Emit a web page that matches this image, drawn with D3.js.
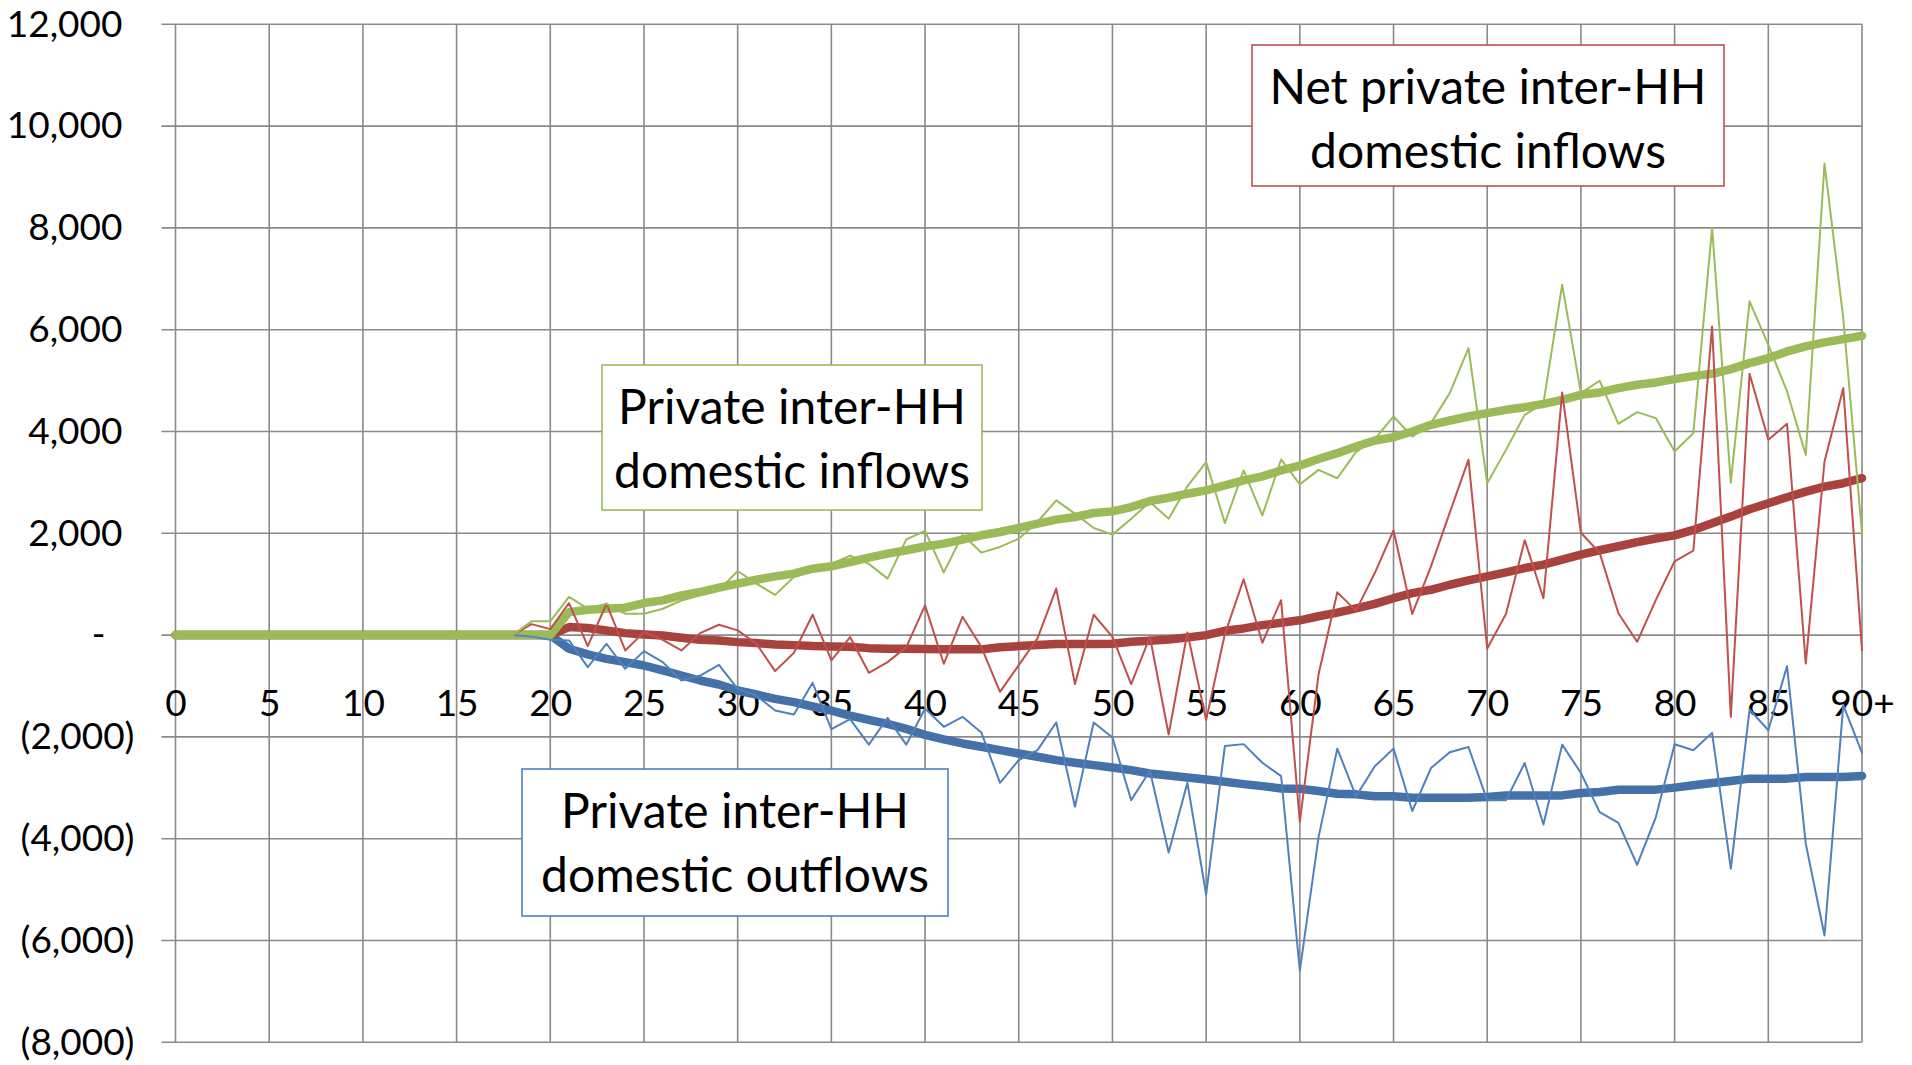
<!DOCTYPE html>
<html>
<head>
<meta charset="utf-8">
<script src="https://cdn.jsdelivr.net/npm/d3@7"></script>
<style>
  html, body { margin: 0; padding: 0; background: #fff; }
  svg { display: block; }
  text { font-family: Lato, "Open Sans", sans-serif; fill: #000; }
</style>
</head>
<body>
<svg id="chart" width="1912" height="1065"></svg>
<script>
// ---------------- DATA ----------------
const ages = d3.range(0, 91);
const xTickValues = d3.range(0, 91, 5);
const xTickLabels = ["0","5","10","15","20","25","30","35","40","45","50","55","60","65","70","75","80","85","90+"];
const yTickValues = [12000, 10000, 8000, 6000, 4000, 2000, 0, -2000, -4000, -6000, -8000];
const yTickLabels = ["12,000","10,000","8,000","6,000","4,000","2,000","-","(2,000)","(4,000)","(6,000)","(8,000)"];

const zeros18 = [0,0,0,0,0,0,0,0,0,0,0,0,0,0,0,0,0,0,0]; // ages 0-18

// Thin lines: raw values by age
const inflowsRaw = zeros18.concat([
  270, 270, 750, 520, 616, 420, 420, 518, 680, 780, 880,      // 19-29
  1260, 1010, 790, 1140, 1300, 1400, 1560, 1400, 1110, 1880,  // 30-39
  2046, 1230, 1974, 1621, 1732, 1895, 2222, 2647, 2386, 2105, // 40-49
  1974, 2288, 2614, 2288, 2922, 3399, 2203, 3235, 2353, 3451, // 50-59
  2961, 3246, 3082, 3600, 3849, 4295, 3900, 4164, 4754, 5639, // 60-69
  2983, 3639, 4328, 4557, 6885, 4754, 4997, 4151, 4380, 4262, // 70-79
  3606, 3967, 8000, 2997, 6557, 5700, 4787, 3541, 9265, 6230, // 80-89
  2000                                                        // 90+
]);
const netRaw = zeros18.concat([
  216, 118, 630, -216, 616, -302, 59, -92, -302, 39, 203,     // 19-29
  92, -170, -708, -348, 400, -498, -39, -741, -531, -236,     // 30-39
  584, -564, 359, -230, -1114, -590, -65, 915, -963, 400,     // 40-49
  -33, -963, -33, -1952, 50, -1670, 20, 1098, -150, 686,      // 50-59
  -3668, -770, 840, 481, 1219, 2056, 415, 1351, 2405, 3447,   // 60-69
  -264, 415, 1865, 725, 4767, 2010, 1615, 428, -132, 692,     // 70-79
  1450, 1661, 6065, -1606, 5134, 3836, 4151, -557, 3410, 4852,// 80-89
  -295                                                        // 90+
]);
const outflowsRaw = zeros18.concat([
  -30, -92, -105, -630, -170, -662, -315, -531, -892, -794, -584,        // 19-29
  -1056, -1187, -1482, -1561, -938, -1849, -1652, -2151, -1626, -2151,   // 30-39
  -1441, -1801, -1605, -1913, -2902, -2456, -2260, -1716, -3373, -1716,  // 40-49
  -2011, -3242, -2666, -4271, -2902, -5096, -2181, -2142, -2509, -2771,  // 50-59
  -6593, -3969, -2230, -3168, -2578, -2230, -3457, -2611, -2303, -2198,  // 60-69
  -3247, -3247, -2512, -3720, -2152, -2709, -3477, -3687, -4513, -3575,  // 70-79
  -2145, -2263, -1921, -4590, -1462, -1869, -610, -4098, -5901, -1377,   // 80-89
  -2315                                                                  // 90+
]);

// Thick lines: smoothed profiles by age
const zeros21 = [0,0,0,0,0,0,0,0,0,0,0,0,0,0,0,0,0,0,0,0,0]; // ages 0-20
const inflowsSmooth = zeros21.concat([
  452, 498, 518, 538, 630, 682, 780, 846, 931,                  // 21-29
  1010, 1088, 1154, 1207, 1305, 1351, 1436, 1521, 1600, 1666,   // 30-39
  1740, 1797, 1876, 1961, 2026, 2105, 2190, 2268, 2320, 2399,   // 40-49
  2431, 2516, 2634, 2699, 2778, 2843, 2941, 3039, 3118, 3235,   // 50-59
  3330, 3460, 3574, 3705, 3823, 3888, 4000, 4131, 4216, 4295,   // 60-69
  4360, 4426, 4478, 4544, 4623, 4721, 4767, 4852, 4918, 4964,   // 70-79
  5029, 5088, 5134, 5226, 5344, 5442, 5573, 5672, 5750, 5816,   // 80-89
  5882
]);
const netSmooth = zeros21.concat([
  157, 138, 92, 39, 13, -7, -52, -92, -105,                     // 21-29
  -138, -157, -184, -197, -216, -223, -230, -256, -269, -270,   // 30-39
  -275, -278, -280, -280, -240, -216, -196, -176, -176, -176,   // 40-49
  -170, -131, -111, -85, -46, 0, 85, 131, 196, 242,             // 50-59
  290, 370, 442, 527, 613, 725, 824, 890, 989, 1074,            // 60-69
  1153, 1232, 1318, 1384, 1483, 1582, 1667, 1746, 1825, 1898,   // 70-79
  1960, 2066, 2197, 2328, 2472, 2590, 2708, 2820, 2918, 2984,   // 80-89
  3082
]);
const outflowsSmooth = zeros21.concat([
  -269, -380, -466, -531, -597, -695, -794, -892, -970,                 // 21-29
  -1088, -1167, -1252, -1318, -1403, -1482, -1580, -1666, -1744, -1843, // 30-39
  -1960, -2050, -2129, -2194, -2260, -2325, -2391, -2456, -2509, -2554, // 40-49
  -2600, -2653, -2718, -2757, -2797, -2836, -2882, -2928, -2967, -3013, // 50-59
  -3018, -3063, -3116, -3129, -3168, -3168, -3195, -3195, -3195, -3195, // 60-69
  -3182, -3149, -3149, -3149, -3149, -3103, -3083, -3037, -3037, -3036, // 70-79
  -2997, -2951, -2905, -2865, -2820, -2820, -2820, -2787, -2787, -2787, // 80-89
  -2767
]);

const labelTexts = [
  ["Net private inter-HH", "domestic inflows"],
  ["Private inter-HH", "domestic inflows"],
  ["Private inter-HH", "domestic outflows"]
];
const labelColors = ["#C0504D", "#9BBB59", "#4F81BD"];

// ---------------- CHART ----------------
(function () {
  const svg = d3.select("#chart");
  const W = 1912, H = 1065;
  svg.append("rect").attr("width", W).attr("height", H).attr("fill", "#fff");

  const pLeft = 175.5, pRight = 1862, pTop = 24.3, pBottom = 1042.3;
  const x = d3.scaleLinear().domain([0, 90]).range([pLeft, pRight]);
  const y = d3.scaleLinear().domain([-8000, 12000]).range([pBottom, pTop]);

  const gridColor = "#8a8a8a";
  svg.append("g").selectAll("line").data(yTickValues).join("line")
    .attr("x1", pLeft - 14).attr("x2", pRight)
    .attr("y1", d => y(d)).attr("y2", d => y(d))
    .attr("stroke", gridColor).attr("stroke-width", 1.6);
  svg.append("g").selectAll("line").data(xTickValues).join("line")
    .attr("x1", d => x(d)).attr("x2", d => x(d))
    .attr("y1", pTop).attr("y2", pBottom)
    .attr("stroke", gridColor).attr("stroke-width", 1.6);

  const yAxis = d3.axisLeft(y).tickValues(yTickValues)
    .tickFormat((d, i) => yTickLabels[i]).tickSize(0).tickPadding(41);
  const gy = svg.append("g").attr("transform", `translate(${pLeft},0)`).call(yAxis);
  gy.select(".domain").remove();
  gy.selectAll("text")
    .style("font-family", "Lato, 'Open Sans', sans-serif")
    .attr("font-size", 37)
    .attr("fill", "#000")
    .attr("x", d => d > 0 ? -53 : (d === 0 ? -70 : -41));

  const xAxis = d3.axisBottom(x).tickValues(xTickValues)
    .tickFormat((d, i) => xTickLabels[i]).tickSize(0);
  const gx = svg.append("g").attr("transform", `translate(0,${y(0)})`).call(xAxis);
  gx.select(".domain").remove();
  gx.selectAll("text")
    .style("font-family", "Lato, 'Open Sans', sans-serif")
    .attr("font-size", 37)
    .attr("fill", "#000")
    .attr("dy", null)
    .attr("y", 81);

  const line = d3.line().x((d, i) => x(ages[i])).y(d => y(d));
  const series = [
    { data: outflowsSmooth, color: "#4471A8", width: 8.5 },
    { data: netSmooth, color: "#A8423F", width: 8.5 },
    { data: inflowsSmooth, color: "#9BBB59", width: 8.5 },
    { data: outflowsRaw, color: "#4F81BD", width: 2 },
    { data: netRaw, color: "#C0504D", width: 2 },
    { data: inflowsRaw, color: "#9BBB59", width: 2 }
  ];
  svg.append("g").selectAll("path").data(series).join("path")
    .attr("d", s => line(s.data))
    .attr("fill", "none")
    .attr("stroke", s => s.color)
    .attr("stroke-width", s => s.width)
    .attr("stroke-linejoin", "round")
    .attr("stroke-linecap", "round");

  // label boxes (box geometry)
  const boxes = [[1252, 45, 472, 141], [602, 365, 380, 145], [522, 769, 426, 147]];
  const lg = svg.append("g").selectAll("g").data(labelTexts).join("g");
  lg.append("rect")
    .attr("x", (d, i) => boxes[i][0]).attr("y", (d, i) => boxes[i][1])
    .attr("width", (d, i) => boxes[i][2]).attr("height", (d, i) => boxes[i][3])
    .attr("fill", "#fff").attr("stroke", (d, i) => labelColors[i]).attr("stroke-width", 1.6);
  lg.each(function (d, k) {
    const g = d3.select(this);
    const b = boxes[k];
    const cx = b[0] + b[2] / 2;
    d.forEach((t, i) => {
      g.append("text")
        .attr("x", cx)
        .attr("y", b[1] + 59 + i * 64)
        .attr("text-anchor", "middle")
        .attr("font-size", 48)
        .text(t);
    });
  });
})();
</script>
</body>
</html>
